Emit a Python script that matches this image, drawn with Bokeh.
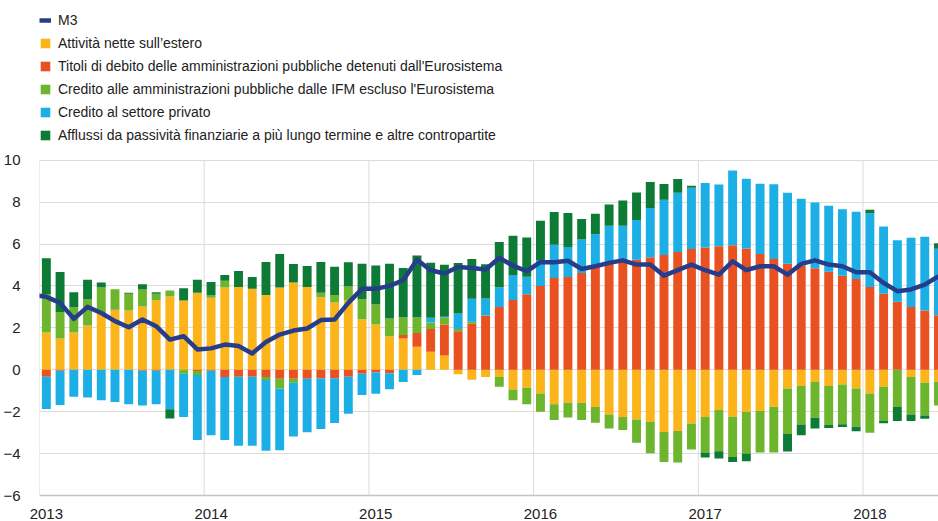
from bokeh.plotting import figure
from bokeh.models import ColumnDataSource, FixedTicker, Legend, LegendItem, Range1d
from bokeh.embed import file_html
from bokeh.resources import INLINE

# Monthly data, Jan 2013 .. Jun 2018 (index 0 = Jan 2013)
years = [2013, 2014, 2015, 2016, 2017, 2018]

attivita_estero = [1.78, 1.49, 1.78, 2.11, 2.70, 2.84, 2.83, 3.02, 3.32, 3.49, 3.30, 3.67,
                   3.44, 3.92, 3.95, 3.87, 3.57, 3.92, 4.16, 3.95, 3.46, 3.21, 3.30, 2.41,
                   2.16, 1.60, 1.49, 1.10, 0.86, 0.68, -0.22, -0.48, -0.35, -0.35, -0.94, -0.86,
                   -1.13, -1.65, -1.57, -1.57, -1.78, -2.13, -2.25, -2.37, -2.49, -2.97, -2.92, -2.56,
                   -2.25, -1.92, -2.24, -2.02, -1.97, -1.76, -0.90, -0.78, -0.59, -0.78, -0.70, -0.89,
                   -1.13, -0.81, 0.00, -0.35, -0.62, -0.57]
titoli_eurosistema = [-0.33, -0.05, 0.00, 0.00, 0.00, 0.03, 0.00, -0.05, -0.05, 0.00, 0.00, -0.06,
                      -0.05, -0.35, -0.33, -0.33, -0.35, -0.43, -0.43, -0.43, -0.40, -0.40, -0.33, -0.19,
                      -0.13, -0.17, 0.17, 0.65, 1.08, 1.48, 1.84, 2.19, 2.56, 3.00, 3.33, 3.60,
                      4.00, 4.38, 4.43, 4.62, 4.90, 5.17, 5.25, 5.25, 5.37, 5.48, 5.62, 5.76,
                      5.83, 5.89, 5.94, 5.78, 5.52, 5.29, 5.06, 4.97, 4.84, 4.68, 4.49, 4.33,
                      3.95, 3.63, 3.24, 3.00, 2.83, 2.60]
credito_aapp_ifm = [1.84, 1.27, 1.20, 1.24, 1.22, 0.97, 0.80, 0.81, 0.31, 0.29, -0.19, -0.19,
                    0.13, 0.33, 0.00, 0.00, -0.14, -0.47, -0.19, 0.00, 0.21, 0.36, 0.67, 0.96,
                    0.95, 0.84, 0.84, 0.76, 0.32, 0.32, 0.11, 0.10, 0.03, -0.46, -0.52, -0.79,
                    -0.87, -0.75, -0.71, -0.83, -0.75, -0.67, -0.63, -1.11, -1.49, -1.43, -1.51, -1.24,
                    -1.70, -1.97, -1.92, -1.97, -1.98, -2.19, -2.17, -1.83, -1.70, -1.86, -1.90, -1.83,
                    -1.87, -1.63, -1.78, -1.78, -1.56, -1.13]
credito_privato = [-1.54, -1.63, -1.29, -1.32, -1.46, -1.54, -1.65, -1.65, -1.60, -1.89, -2.06, -3.10,
                   -3.08, -3.00, -3.30, -3.30, -3.38, -2.94, -2.57, -2.55, -2.43, -2.14, -1.77, -1.02,
                   -1.02, -0.76, -0.59, -0.25, 0.22, 0.05, 0.73, 1.10, 0.81, 0.94, 1.19, 0.84,
                   1.24, 1.59, 1.43, 1.59, 1.57, 1.70, 1.62, 1.89, 2.35, 2.63, 2.83, 2.92,
                   3.08, 2.95, 3.57, 3.33, 3.35, 3.56, 3.38, 3.19, 3.14, 3.14, 3.17, 3.21,
                   3.52, 3.21, 2.94, 3.30, 3.52, 3.17]
afflussi_passivita = [1.70, 1.91, 0.72, 0.95, 0.24, 0.00, 0.04, 0.25, 0.07, -0.44, 0.59, 0.63,
                      0.62, 0.27, 0.76, 0.56, 1.57, 1.60, 0.89, 1.00, 1.47, 1.35, 1.16, 1.69,
                      1.87, 2.62, 2.35, 2.94, 2.62, 2.48, 2.41, 1.90, 1.63, 2.16, 1.87, 1.87,
                      1.87, 1.56, 1.62, 0.98, 0.97, 1.02, 1.21, 1.32, 1.24, 0.75, 0.65, 0.10,
                      -0.24, -0.35, -0.24, -0.37, 0.00, 0.00, -0.83, -0.52, -0.51, -0.14, -0.13, -0.22,
                      0.16, -0.11, -0.67, -0.32, -0.16, 0.27]
# M3 annual growth, Dec 2012 .. Jun 2018
m3 = [3.58, 3.48, 3.19, 2.43, 3.00, 2.71, 2.32, 2.03, 2.40, 2.08, 1.44, 1.60, 0.97,
      1.02, 1.20, 1.13, 0.78, 1.32, 1.68, 1.87, 1.97, 2.37, 2.40, 3.19, 3.86,
      3.86, 4.00, 4.27, 5.25, 4.75, 4.59, 4.90, 4.86, 4.78, 5.33, 4.97, 4.70,
      5.13, 5.13, 5.20, 4.81, 4.94, 5.10, 5.22, 5.02, 5.02, 4.49, 4.75, 5.02,
      4.75, 4.54, 5.17, 4.75, 4.94, 4.94, 4.54, 5.05, 5.22, 5.02, 4.94, 4.65,
      4.65, 4.14, 3.75, 3.83, 4.06, 4.46]

labels = ["Attività nette sull’estero",
          "Titoli di debito delle amministrazioni pubbliche detenuti dall'Eurosistema",
          "Credito alle amministrazioni pubbliche dalle IFM escluso l'Eurosistema",
          "Credito al settore privato",
          "Afflussi da passività finanziarie a più lungo termine e altre contropartite"]
colors = ["#fbb41a", "#ea5121", "#6cb52d", "#1cafe5", "#0d7a36"]
m3_color = "#263d8c"
y_ticks = list(range(-6, 11, 2))

series = [attivita_estero, titoli_eurosistema, credito_aapp_ifm, credito_privato, afflussi_passivita]
n = len(attivita_estero)
months = list(range(n))
m3_months = list(range(-1, n))

# stack positives upward and negatives downward
pos = [0.0] * n
neg = [0.0] * n
sources = []
for s in series:
    tops, bottoms = [], []
    for i, v in enumerate(s):
        if v >= 0:
            bottoms.append(pos[i]); tops.append(pos[i] + v); pos[i] += v
        else:
            tops.append(neg[i]); bottoms.append(neg[i] + v); neg[i] += v
    sources.append(ColumnDataSource(dict(x=months, top=tops, bottom=bottoms)))

FONT = "Liberation Sans"

# layout: the plotting area spans from the top of the page (legend lives in its upper part);
# the value axis runs from -6 (y = 496 px) to 10 (y = 160 px)
H = 521
FRAME_BOTTOM = 496
VAL_TOP_PX = 160
y_lo, y_hi = y_ticks[0], y_ticks[-1]
y_end = y_hi + (y_hi - y_lo) / (FRAME_BOTTOM - VAL_TOP_PX) * VAL_TOP_PX

p = figure(width=938, height=H, x_range=Range1d(-0.5, 65.0), y_range=Range1d(y_lo, y_end),
           output_backend="svg", toolbar_location=None, title=None,
           min_border_left=38, min_border_right=0, min_border_top=0, min_border_bottom=0)
p.outline_line_color = None
p.background_fill_color = "white"
p.xgrid.visible = False
p.ygrid.grid_line_color = "#dcdcdc"
p.ygrid.grid_line_width = 1

# vertical year separators (only across the value area)
year_bounds = [12 * k - 0.5 for k in range(len(years))]
p.segment(x0=year_bounds, x1=year_bounds, y0=[y_lo] * len(years), y1=[y_hi] * len(years),
          line_color="#dcdcdc", line_width=1)

bar_renderers = []
for src, c in zip(sources, colors):
    r = p.vbar(x="x", top="top", bottom="bottom", width=0.65, source=src,
               fill_color=c, line_color=None)
    bar_renderers.append(r)

m3_r = p.line(m3_months, m3, line_color=m3_color, line_width=4.5, line_join="round")

# axes
p.yaxis.ticker = FixedTicker(ticks=y_ticks)
p.yaxis.axis_line_color = None
p.yaxis.major_tick_line_color = None
p.yaxis.minor_tick_line_color = None
p.yaxis.major_label_standoff = 13
p.yaxis.major_label_text_font = FONT
p.yaxis.major_label_text_font_size = "15px"
p.yaxis.major_label_text_color = "#222222"

year_ticks = [12 * k for k in range(len(years))]
p.xaxis.ticker = FixedTicker(ticks=year_ticks)
p.xaxis.major_label_overrides = {t: str(y) for t, y in zip(year_ticks, years)}
p.xaxis.axis_line_color = "#c4c4c4"
p.xaxis.axis_line_width = 1.5
p.xaxis.major_tick_line_color = None
p.xaxis.minor_tick_line_color = None
p.xaxis.major_label_standoff = 7
p.xaxis.major_label_text_font = FONT
p.xaxis.major_label_text_font_size = "15px"
p.xaxis.major_label_text_color = "#222222"

items = [LegendItem(label="M3", renderers=[m3_r])]
for lab, r in zip(labels, bar_renderers):
    items.append(LegendItem(label=lab, renderers=[r]))
legend = Legend(items=items, location=(0, 351), orientation="vertical",
                glyph_width=12, glyph_height=12, label_standoff=7, spacing=5,
                label_height=18, padding=0, margin=0,
                background_fill_alpha=0, border_line_alpha=0,
                label_text_font=FONT, label_text_font_size="14px", label_text_color="#222222")
p.add_layout(legend, "center")

open("out.html", "w").write(file_html(p, INLINE))
